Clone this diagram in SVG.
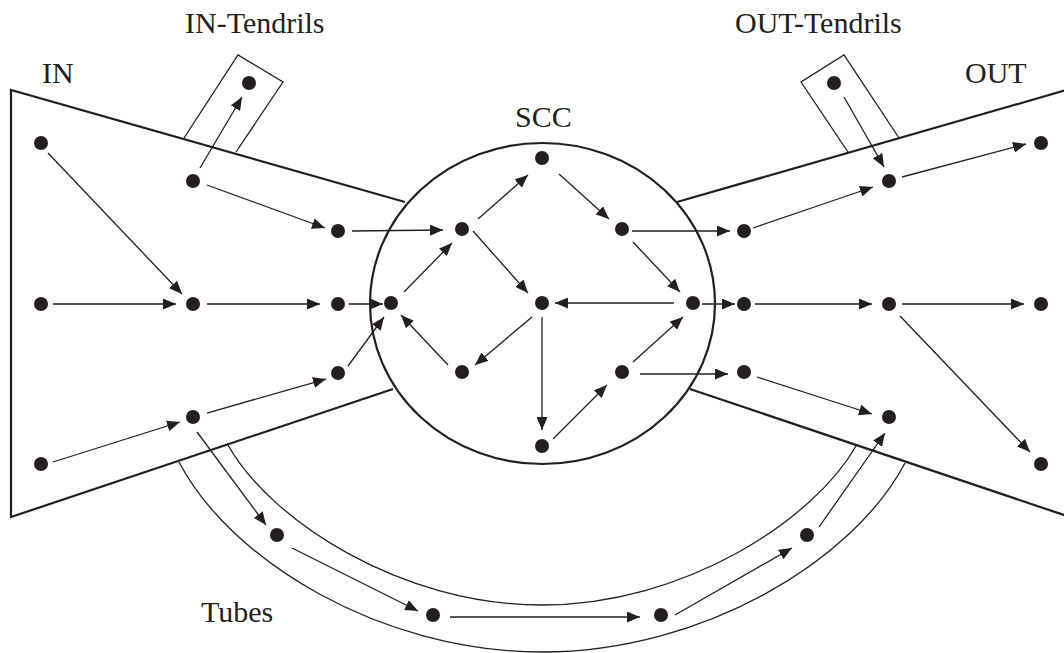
<svg xmlns="http://www.w3.org/2000/svg" width="1064" height="653" viewBox="0 0 1064 653">
<style>
.lbl{font-family:"Liberation Serif","Times New Roman",serif;font-size:30px;fill:#231f20}
.edge{fill:none;stroke:#231f20;stroke-width:2.2}
.thin{fill:none;stroke:#231f20;stroke-width:1.3}
.nd{fill:#231f20}
.ar{stroke:#231f20;stroke-width:1.3;fill:none;marker-end:url(#ah)}
</style>
<defs>
<marker id="ah" markerUnits="userSpaceOnUse" markerWidth="13" markerHeight="11" refX="13" refY="5.5" orient="auto">
<path d="M0,0 L13,5.5 L0,11 z" fill="#231f20"/>
</marker>
</defs>
<rect width="1064" height="653" fill="#fff"/>
<g id="regions">
<path class="edge" d="M405,202 L11,90 L11,517 L393,389"/>
<path class="edge" d="M677,202 L1070,89"/>
<path class="edge" d="M690,389 L1070,517"/>
<ellipse class="edge" cx="542.5" cy="303.5" rx="172.5" ry="160.5"/>
<polyline class="thin" points="184,138 238,55 283,82 236,152"/>
<polyline class="thin" points="848,152 801,82 844,55 899,138"/>
<path class="thin" d="M228,445 C270,520 400,605 542,605 C684,605 814,520 856,446"/>
<path class="thin" d="M179,462 C230,560 380,652 542,652 C704,652 854,560 905,463"/>
</g>
<g id="labels">
<text class="lbl" x="42" y="83">IN</text>
<text class="lbl" x="965" y="83">OUT</text>
<text class="lbl" x="185" y="33">IN-Tendrils</text>
<text class="lbl" x="735" y="33">OUT-Tendrils</text>
<text class="lbl" x="515" y="127">SCC</text>
<text class="lbl" x="201" y="622">Tubes</text>
</g>
<g id="connectors">
<line class="ar" x1="48" y1="153" x2="182" y2="294"/>
<line class="ar" x1="53" y1="304" x2="176" y2="304"/>
<line class="ar" x1="53" y1="462" x2="180" y2="422"/>
<line class="ar" x1="200" y1="168" x2="242" y2="97"/>
<line class="ar" x1="207" y1="185" x2="325" y2="228"/>
<line class="ar" x1="207" y1="304" x2="320" y2="304"/>
<line class="ar" x1="207" y1="413" x2="326" y2="379"/>
<line class="ar" x1="197" y1="432" x2="266" y2="525"/>
<line class="ar" x1="352" y1="231" x2="443" y2="230"/>
<line class="ar" x1="349" y1="304" x2="383" y2="304"/>
<line class="ar" x1="348" y1="366" x2="384" y2="317"/>
<line class="ar" x1="478" y1="219" x2="528" y2="175"/>
<line class="ar" x1="559" y1="174" x2="609" y2="219"/>
<line class="ar" x1="473" y1="231" x2="528" y2="293"/>
<line class="ar" x1="633" y1="242" x2="680" y2="292"/>
<line class="ar" x1="674" y1="303" x2="555" y2="303"/>
<line class="ar" x1="532" y1="317" x2="475" y2="365"/>
<line class="ar" x1="542" y1="317" x2="542" y2="430"/>
<line class="ar" x1="448" y1="365" x2="401" y2="315"/>
<line class="ar" x1="404" y1="292" x2="452" y2="243"/>
<line class="ar" x1="553" y1="439" x2="607" y2="385"/>
<line class="ar" x1="633" y1="362" x2="683" y2="317"/>
<line class="ar" x1="640" y1="374" x2="728" y2="374"/>
<line class="ar" x1="632" y1="231" x2="730" y2="231"/>
<line class="ar" x1="702" y1="304" x2="735" y2="304"/>
<line class="ar" x1="753" y1="228" x2="873" y2="187"/>
<line class="ar" x1="902" y1="177" x2="1026" y2="144"/>
<line class="ar" x1="844" y1="97" x2="884" y2="167"/>
<line class="ar" x1="755" y1="304" x2="872" y2="304"/>
<line class="ar" x1="902" y1="304" x2="1024" y2="304"/>
<line class="ar" x1="900" y1="316" x2="1030" y2="452"/>
<line class="ar" x1="757" y1="377" x2="872" y2="414"/>
<line class="ar" x1="819" y1="527" x2="885" y2="433"/>
<line class="ar" x1="292" y1="548" x2="418" y2="611"/>
<line class="ar" x1="450" y1="617" x2="640" y2="617"/>
<line class="ar" x1="675" y1="615" x2="792" y2="548"/>
</g>
<g id="n-in1"><circle class="nd" cx="41" cy="143" r="7"/></g>
<g id="n-in2"><circle class="nd" cx="41" cy="304" r="7"/></g>
<g id="n-in3"><circle class="nd" cx="41" cy="464" r="7"/></g>
<g id="n-in4"><circle class="nd" cx="193" cy="181" r="7"/></g>
<g id="n-in5"><circle class="nd" cx="193" cy="304" r="7"/></g>
<g id="n-in6"><circle class="nd" cx="193" cy="417" r="7"/></g>
<g id="n-intendril"><circle class="nd" cx="249" cy="83" r="7"/></g>
<g id="n-in7"><circle class="nd" cx="338" cy="231" r="7"/></g>
<g id="n-in8"><circle class="nd" cx="338" cy="304" r="7"/></g>
<g id="n-in9"><circle class="nd" cx="338" cy="373" r="7"/></g>
<g id="n-scc1"><circle class="nd" cx="391" cy="303" r="7"/></g>
<g id="n-scc2"><circle class="nd" cx="462" cy="229" r="7"/></g>
<g id="n-scc3"><circle class="nd" cx="542" cy="158" r="7"/></g>
<g id="n-scc4"><circle class="nd" cx="622" cy="229" r="7"/></g>
<g id="n-scc5"><circle class="nd" cx="542" cy="303" r="7"/></g>
<g id="n-scc6"><circle class="nd" cx="693" cy="303" r="7"/></g>
<g id="n-scc7"><circle class="nd" cx="462" cy="372" r="7"/></g>
<g id="n-scc8"><circle class="nd" cx="622" cy="372" r="7"/></g>
<g id="n-scc9"><circle class="nd" cx="542" cy="446" r="7"/></g>
<g id="n-outtendril"><circle class="nd" cx="834" cy="83" r="7"/></g>
<g id="n-out1"><circle class="nd" cx="744" cy="231" r="7"/></g>
<g id="n-out2"><circle class="nd" cx="889" cy="181" r="7"/></g>
<g id="n-out3"><circle class="nd" cx="1041" cy="143" r="7"/></g>
<g id="n-out4"><circle class="nd" cx="744" cy="304" r="7"/></g>
<g id="n-out5"><circle class="nd" cx="889" cy="304" r="7"/></g>
<g id="n-out6"><circle class="nd" cx="1041" cy="304" r="7"/></g>
<g id="n-out7"><circle class="nd" cx="744" cy="372" r="7"/></g>
<g id="n-out8"><circle class="nd" cx="889" cy="417" r="7"/></g>
<g id="n-out9"><circle class="nd" cx="1041" cy="464" r="7"/></g>
<g id="n-tube1"><circle class="nd" cx="277" cy="535" r="7"/></g>
<g id="n-tube2"><circle class="nd" cx="433" cy="615" r="7"/></g>
<g id="n-tube3"><circle class="nd" cx="661" cy="615" r="7"/></g>
<g id="n-tube4"><circle class="nd" cx="807" cy="535" r="7"/></g>
</svg>
